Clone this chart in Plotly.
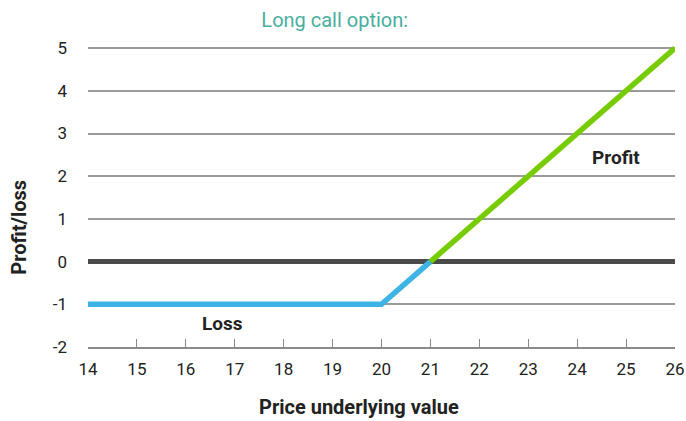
import plotly.graph_objects as go

loss_x = [14, 20, 21]
loss_y = [-1, -1, 0]
profit_x = [21, 26]
profit_y = [0, 5]
zero_x = [14, 26]
zero_y = [0, 0]
x_ticks = list(range(14, 27))
y_ticks = [-2, -1, 0, 1, 2, 3, 4, 5]
y_tick_text = ["-2", "-1", "0", "1", "2", "3", "4", "5"]

FONT = "Roboto"
DARK = "#222222"

fig = go.Figure()
fig.add_trace(go.Scatter(x=zero_x, y=zero_y, mode="lines",
                         line=dict(color="#4a4a4a", width=5), hoverinfo="skip"))
fig.add_trace(go.Scatter(x=loss_x, y=loss_y, mode="lines",
                         line=dict(color="#3db4e5", width=5.5), hoverinfo="skip"))
fig.add_trace(go.Scatter(x=profit_x, y=profit_y, mode="lines",
                         line=dict(color="#77cc00", width=5.5), hoverinfo="skip"))

fig.update_layout(
    width=686, height=421,
    margin=dict(l=88, r=11, t=46, b=74),
    plot_bgcolor="white", paper_bgcolor="white",
    showlegend=False,
    font=dict(family=FONT, color=DARK, size=17),
    title=dict(text="Long call option:", x=0.488, xanchor="center", y=0.952, yanchor="middle",
               font=dict(family=FONT, color="#4aaea0", size=20)),
    xaxis=dict(range=[14, 26], tickvals=x_ticks, ticks="inside", ticklen=8,
               tickcolor="#8a8a8a", tickwidth=1.3, showgrid=False, zeroline=False,
               showline=True, linecolor="#8a8a8a", linewidth=1.8,
               ticklabelstandoff=6, automargin=False,
               tickfont=dict(size=17, color=DARK)),
    yaxis=dict(range=[-2, 5.05], tickvals=y_ticks, ticktext=y_tick_text,
               showgrid=True, gridcolor="#9a9a9a",
               gridwidth=1.6, zeroline=False, showline=False, ticks="",
               ticklabelstandoff=20, automargin=False,
               tickfont=dict(size=17, color=DARK)),
)

fig.add_annotation(xref="paper", yref="paper", x=-0.119, y=0.397,
                   text="<b>Profit/loss</b>", textangle=-90, showarrow=False,
                   xanchor="center", yanchor="middle", font=dict(size=20, color=DARK))
fig.add_annotation(xref="paper", yref="paper", x=0.462, y=-0.200,
                   text="<b>Price underlying value</b>", showarrow=False,
                   xanchor="center", yanchor="middle", font=dict(size=20, color=DARK))

fig.add_annotation(x=24.8, y=2.45, text="<b>Profit</b>", showarrow=False,
                   xanchor="center", yanchor="middle", font=dict(size=19, color=DARK))
fig.add_annotation(x=16.75, y=-1.45, text="<b>Loss</b>", showarrow=False,
                   xanchor="center", yanchor="middle", font=dict(size=19, color=DARK))

fig.write_html("out.html", config={"displayModeBar": False},
               post_script="document.body.style.margin='0';")
